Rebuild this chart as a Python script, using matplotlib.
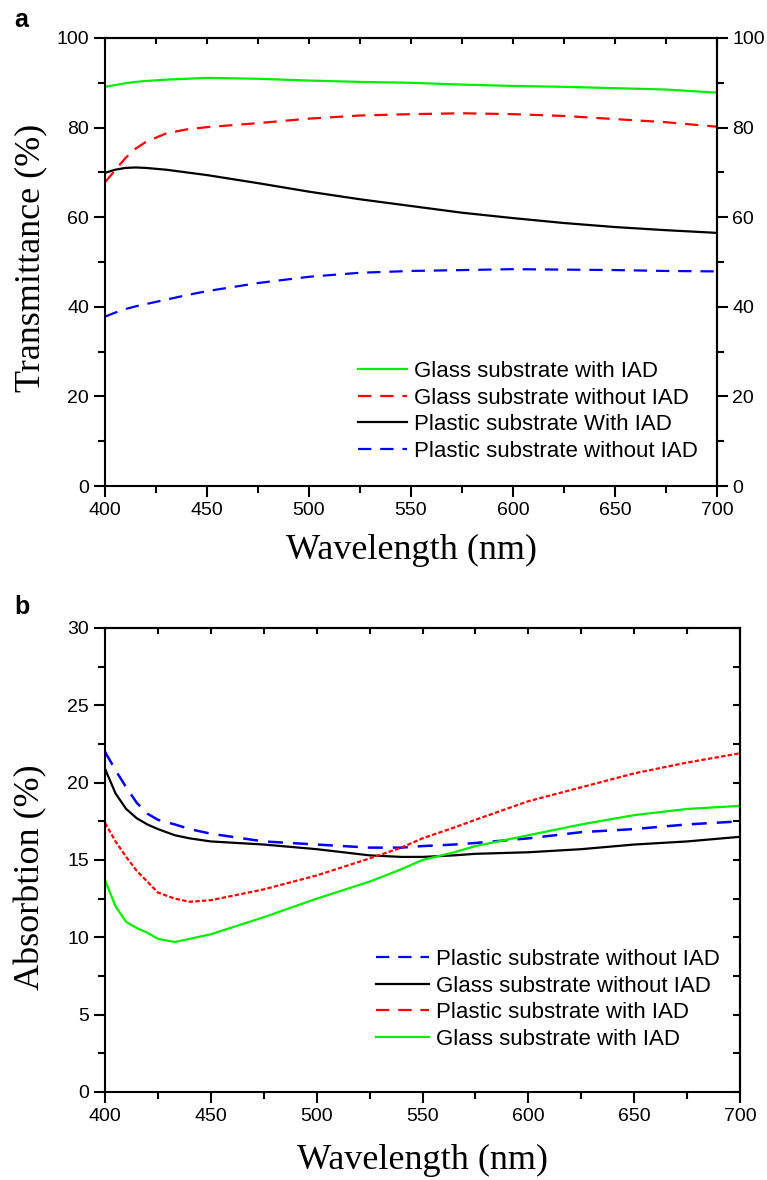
import matplotlib
matplotlib.use("Agg")
import matplotlib.pyplot as plt
from matplotlib.lines import Line2D
from matplotlib.ticker import MultipleLocator

# ---- panel a: transmittance ----
wl_a = [400, 405, 410, 415, 420, 430, 440, 450, 475, 500, 525, 550, 575, 600, 625, 650, 675, 700]
glass_iad_a = [89.1, 89.5, 89.9, 90.2, 90.4, 90.7, 90.9, 91.1, 90.9, 90.5, 90.2, 90.0, 89.6, 89.3, 89.1, 88.8, 88.5, 87.8]
glass_noiad_a = [67.8, 70.5, 73.2, 75.3, 76.8, 78.7, 79.6, 80.1, 81.0, 82.0, 82.7, 83.0, 83.2, 83.0, 82.6, 81.9, 81.2, 80.2]
plastic_iad_a = [69.9, 70.6, 71.0, 71.1, 71.0, 70.6, 70.0, 69.4, 67.6, 65.7, 64.0, 62.5, 61.0, 59.8, 58.7, 57.8, 57.1, 56.5]
plastic_noiad_a = [37.8, 38.7, 39.5, 40.1, 40.6, 41.6, 42.6, 43.5, 45.3, 46.7, 47.6, 48.0, 48.2, 48.4, 48.3, 48.2, 48.0, 47.9]

# ---- panel b: absorption ----
wl_b = [400, 405, 410, 415, 420, 425, 433, 440, 450, 475, 500, 525, 540, 550, 565, 575, 600, 625, 650, 675, 700]
plastic_noiad_b = [22.0, 20.8, 19.7, 18.7, 18.0, 17.6, 17.3, 17.0, 16.7, 16.2, 16.0, 15.8, 15.8, 15.9, 16.0, 16.1, 16.4, 16.8, 17.0, 17.3, 17.5]
glass_noiad_b = [20.9, 19.3, 18.3, 17.7, 17.3, 17.0, 16.6, 16.4, 16.2, 16.0, 15.7, 15.3, 15.2, 15.2, 15.3, 15.4, 15.5, 15.7, 16.0, 16.2, 16.5]
plastic_iad_b = [17.4, 16.2, 15.2, 14.3, 13.6, 12.9, 12.5, 12.3, 12.4, 13.1, 14.0, 15.1, 15.8, 16.4, 17.1, 17.6, 18.8, 19.7, 20.6, 21.3, 21.9]
glass_iad_b = [13.7, 12.0, 11.0, 10.6, 10.3, 9.9, 9.7, 9.9, 10.2, 11.3, 12.5, 13.6, 14.4, 15.0, 15.5, 15.9, 16.6, 17.3, 17.9, 18.3, 18.5]

plt.rcParams['font.family'] = 'Liberation Sans'
plt.rcParams['axes.linewidth'] = 1.5

W, H = 767, 1180
fig = plt.figure(figsize=(W / 100, H / 100), dpi=100)


def px_axes(l, t, r, b):
    return fig.add_axes([l / W, 1 - b / H, (r - l) / W, (b - t) / H])


def style_axes(ax, ymax, ystep, right_labels):
    ax.set_xlim(400, 700)
    ax.set_ylim(0, ymax)
    ax.xaxis.set_major_locator(MultipleLocator(50))
    ax.xaxis.set_minor_locator(MultipleLocator(25))
    ax.yaxis.set_major_locator(MultipleLocator(ystep))
    ax.yaxis.set_minor_locator(MultipleLocator(ystep / 2))
    ax.tick_params(which='both', direction='out', width=1.5, labelsize=14, top=False, right=False)
    ax.tick_params(which='major', length=8)
    ax.tick_params(which='minor', length=5)
    top = ax.secondary_xaxis('top')
    top.xaxis.set_major_locator(MultipleLocator(25))
    top.tick_params(direction='in', length=4, width=1.5, labeltop=False)
    right = ax.secondary_yaxis('right')
    right.yaxis.set_major_locator(MultipleLocator(ystep))
    right.yaxis.set_minor_locator(MultipleLocator(ystep / 2))
    if right_labels:
        right.tick_params(which='both', direction='out', width=1.5, labelsize=14, pad=3)
        right.tick_params(which='major', length=8)
        right.tick_params(which='minor', length=5)
    else:
        right.tick_params(which='both', direction='in', width=1.5, length=5, labelright=False)


serif = 'Liberation Serif'

# panel a
ax1 = px_axes(105, 38, 717, 486)
ax1.plot(wl_a, glass_iad_a, color='#00ee00', lw=1.6)
ax1.plot(wl_a, glass_noiad_a, color='red', lw=1.6, dashes=(6, 4))
ax1.plot(wl_a, plastic_iad_a, color='black', lw=1.6)
ax1.plot(wl_a, plastic_noiad_a, color='blue', lw=1.6, dashes=(6, 4))
style_axes(ax1, 100, 20, True)
h1 = [Line2D([], [], color='#00ee00', lw=1.6),
      Line2D([], [], color='red', lw=1.6, dashes=(6, 4)),
      Line2D([], [], color='black', lw=1.6),
      Line2D([], [], color='blue', lw=1.6, dashes=(6, 4))]
ax1.legend(h1, ['Glass substrate with IAD', 'Glass substrate without IAD',
                'Plastic substrate With IAD', 'Plastic substrate without IAD'],
           loc='upper left', bbox_to_anchor=((358 - 105) / 612, (486 - 361) / 448),
           frameon=False, fontsize=16, borderpad=0, borderaxespad=0,
           handlelength=2.2, handletextpad=0.3, labelspacing=0.25)
fig.text(411 / W, 1 - 550 / H, 'Wavelength (nm)', family=serif, fontsize=26, ha='center', va='center')
fig.text(31 / W, 1 - 258 / H, 'Transmittance (%)', family=serif, fontsize=26,
         ha='center', va='center', rotation=90)
fig.text(14 / W, 1 - 20 / H, 'a', fontsize=18, fontweight='bold', ha='left', va='center')

# panel b
ax2 = px_axes(105, 628, 740, 1092)
ax2.plot(wl_b, plastic_noiad_b, color='blue', lw=1.8, dashes=(6, 4))
ax2.plot(wl_b, glass_noiad_b, color='black', lw=1.6)
ax2.plot(wl_b, plastic_iad_b, color='red', lw=1.6, dashes=(2, 1))
ax2.plot(wl_b, glass_iad_b, color='#00ee00', lw=1.6)
style_axes(ax2, 30, 5, False)
h2 = [Line2D([], [], color='blue', lw=1.6, dashes=(6, 4)),
      Line2D([], [], color='black', lw=1.6),
      Line2D([], [], color='red', lw=1.6, dashes=(6, 4)),
      Line2D([], [], color='#00ee00', lw=1.6)]
ax2.legend(h2, ['Plastic substrate without IAD', 'Glass substrate without IAD',
                'Plastic substrate with IAD', 'Glass substrate with IAD'],
           loc='upper left', bbox_to_anchor=((376 - 105) / 635, (1092 - 949) / 464),
           frameon=False, fontsize=16, borderpad=0, borderaxespad=0,
           handlelength=2.4, handletextpad=0.3, labelspacing=0.25)
fig.text(422 / W, 1 - 1160 / H, 'Wavelength (nm)', family=serif, fontsize=26, ha='center', va='center')
fig.text(31 / W, 1 - 877 / H, 'Absorbtion (%)', family=serif, fontsize=26,
         ha='center', va='center', rotation=90)
fig.text(14 / W, 1 - 607 / H, 'b', fontsize=18, fontweight='bold', ha='left', va='center')

fig.savefig('out.png', dpi=100)
